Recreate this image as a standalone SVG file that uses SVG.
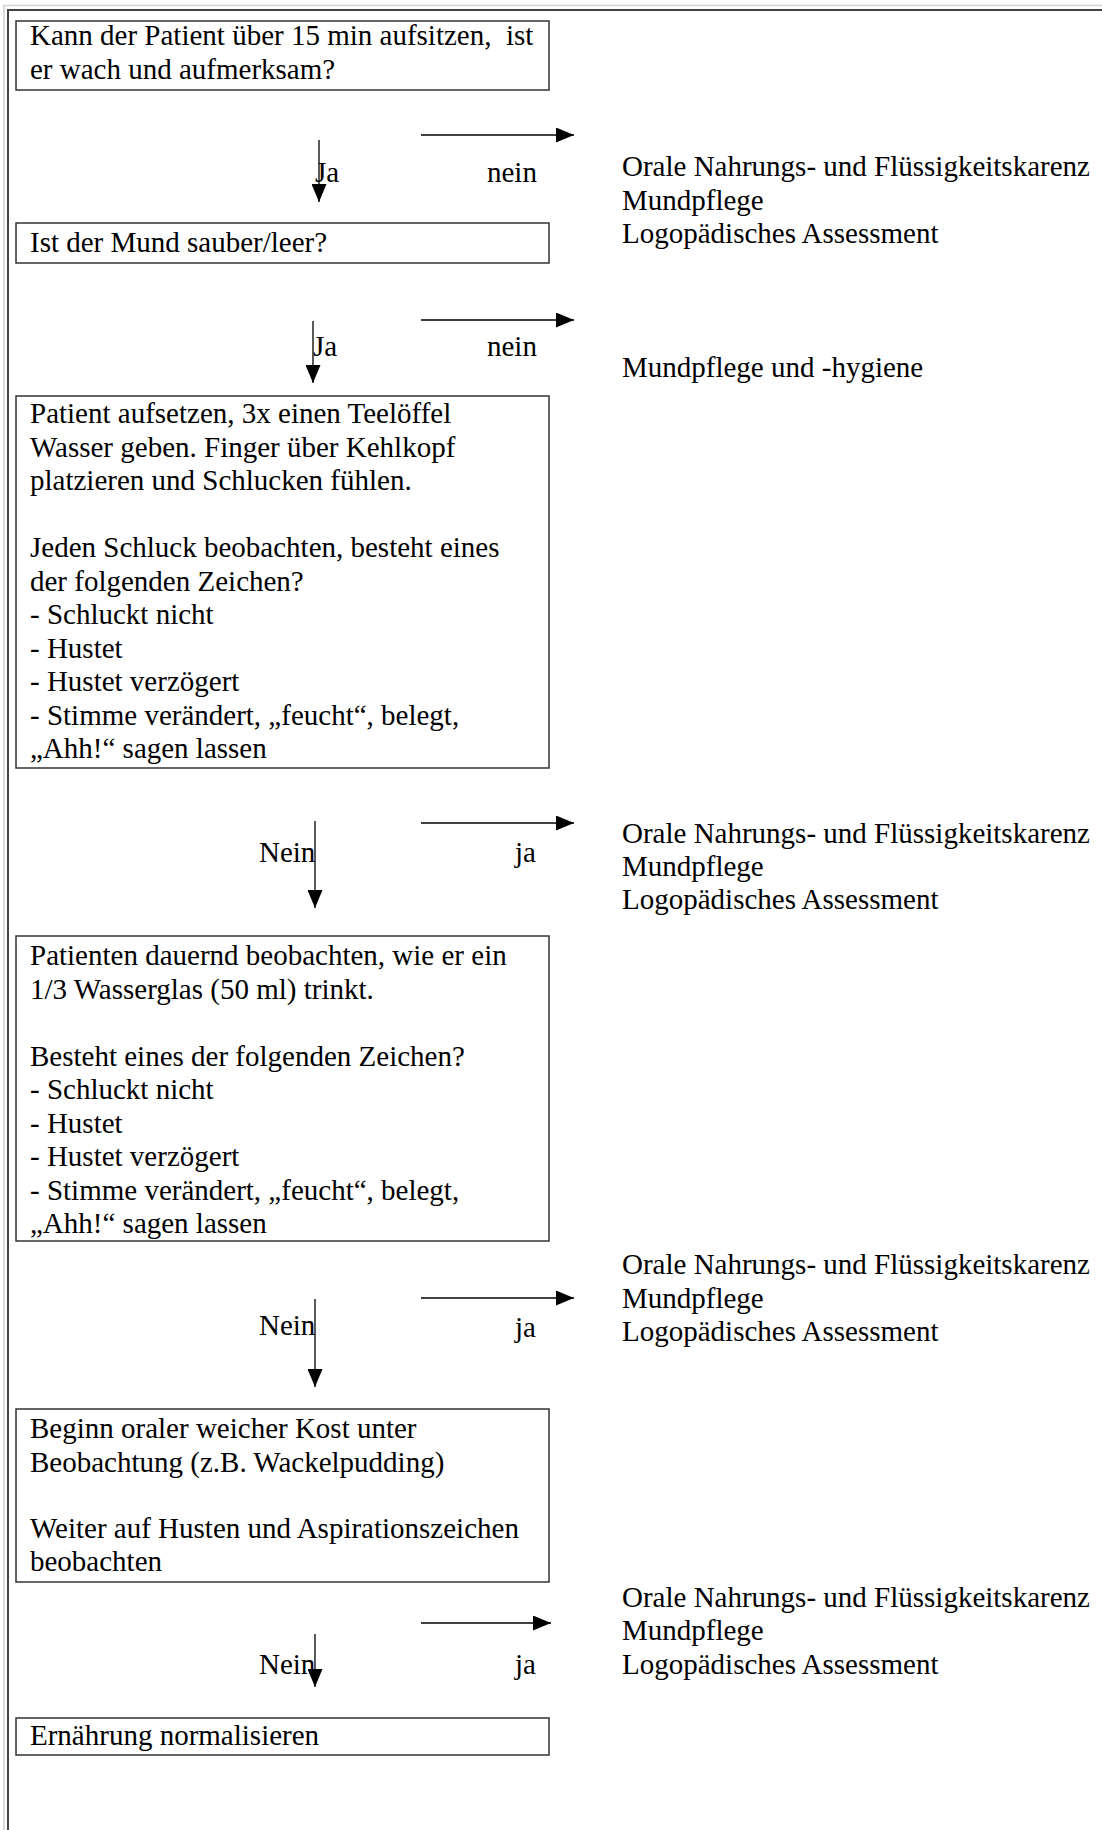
<svg xmlns="http://www.w3.org/2000/svg" width="1102" height="1830" viewBox="0 0 1102 1830">
<defs>
<style>
text{font-family:"Liberation Serif","Times New Roman",serif;font-size:29px;fill:#000;white-space:pre}
.box{fill:#fff;stroke:#333;stroke-width:1.5}
.ln{stroke:#000;stroke-width:1.3;fill:none}
.frameL{stroke:#d0d0d0;stroke-width:1.5;fill:none}
.frameD{stroke:#444;stroke-width:2;fill:none}
</style>
<marker id="ah" viewBox="0 0 18 15" refX="18" refY="7.5" markerWidth="18" markerHeight="15" markerUnits="userSpaceOnUse" orient="auto">
<path d="M0,0 L18,7.5 L0,15 Z" fill="#000"/>
</marker>
</defs>
<rect width="1102" height="1830" fill="#fff"/>
<g id="frame">
<path class="frameL" d="M4,1830 V5.5 H1102"/>
<path class="frameD" d="M8,1830 V10 H1102"/>
</g>
<g id="connectors">
<line class="ln" x1="319" y1="140" x2="319" y2="202" marker-end="url(#ah)"/>
<line class="ln" x1="421" y1="135" x2="574" y2="135" marker-end="url(#ah)"/>
<line class="ln" x1="313" y1="321" x2="313" y2="383" marker-end="url(#ah)"/>
<line class="ln" x1="421" y1="320" x2="574" y2="320" marker-end="url(#ah)"/>
<line class="ln" x1="315" y1="821" x2="315" y2="908" marker-end="url(#ah)"/>
<line class="ln" x1="421" y1="823" x2="574" y2="823" marker-end="url(#ah)"/>
<line class="ln" x1="315" y1="1299" x2="315" y2="1387" marker-end="url(#ah)"/>
<line class="ln" x1="421" y1="1298" x2="574" y2="1298" marker-end="url(#ah)"/>
<line class="ln" x1="315" y1="1634" x2="315" y2="1687" marker-end="url(#ah)"/>
<line class="ln" x1="421" y1="1623" x2="551" y2="1623" marker-end="url(#ah)"/>
<text x="315" y="182">Ja</text>
<text x="487" y="182">nein</text>
<text x="313" y="356">Ja</text>
<text x="487" y="356">nein</text>
<text x="259" y="862">Nein</text>
<text x="515" y="862">ja</text>
<text x="259" y="1335">Nein</text>
<text x="515" y="1337">ja</text>
<text x="259" y="1674">Nein</text>
<text x="515" y="1674">ja</text>
</g>
<g id="n1">
<rect class="box" x="16" y="21" width="533" height="69"/>
<text x="30" y="45" xml:space="preserve">Kann der Patient über 15 min aufsitzen,  ist</text>
<text x="30" y="79">er wach und aufmerksam?</text>
</g>
<g id="n2">
<rect class="box" x="16" y="223" width="533" height="40"/>
<text x="30" y="252">Ist der Mund sauber/leer?</text>
</g>
<g id="n3">
<rect class="box" x="16" y="396" width="533" height="372"/>
<text x="30" y="423">Patient aufsetzen, 3x einen Teelöffel</text>
<text x="30" y="456.5">Wasser geben. Finger über Kehlkopf</text>
<text x="30" y="490">platzieren und Schlucken fühlen.</text>
<text x="30" y="557">Jeden Schluck beobachten, besteht eines</text>
<text x="30" y="590.5">der folgenden Zeichen?</text>
<text x="30" y="624">- Schluckt nicht</text>
<text x="30" y="657.5">- Hustet</text>
<text x="30" y="691">- Hustet verzögert</text>
<text x="30" y="724.5">- Stimme verändert, „feucht“, belegt,</text>
<text x="30" y="758">„Ahh!“ sagen lassen</text>
</g>
<g id="n4">
<rect class="box" x="16" y="936" width="533" height="305"/>
<text x="30" y="965">Patienten dauernd beobachten, wie er ein</text>
<text x="30" y="998.5">1/3 Wasserglas (50 ml) trinkt.</text>
<text x="30" y="1065.5">Besteht eines der folgenden Zeichen?</text>
<text x="30" y="1099">- Schluckt nicht</text>
<text x="30" y="1132.5">- Hustet</text>
<text x="30" y="1166">- Hustet verzögert</text>
<text x="30" y="1199.5">- Stimme verändert, „feucht“, belegt,</text>
<text x="30" y="1233">„Ahh!“ sagen lassen</text>
</g>
<g id="n5">
<rect class="box" x="16" y="1409" width="533" height="173"/>
<text x="30" y="1438">Beginn oraler weicher Kost unter</text>
<text x="30" y="1472">Beobachtung (z.B. Wackelpudding)</text>
<text x="30" y="1538">Weiter auf Husten und Aspirationszeichen</text>
<text x="30" y="1571">beobachten</text>
</g>
<g id="n6">
<rect class="box" x="16" y="1718" width="533" height="37"/>
<text x="30" y="1745">Ernährung normalisieren</text>
</g>
<g id="r1">
<text x="622" y="176">Orale Nahrungs- und Flüssigkeitskarenz</text>
<text x="622" y="209.5">Mundpflege</text>
<text x="622" y="243">Logopädisches Assessment</text>
</g>
<g id="r2">
<text x="622" y="377">Mundpflege und -hygiene</text>
</g>
<g id="r3">
<text x="622" y="843">Orale Nahrungs- und Flüssigkeitskarenz</text>
<text x="622" y="876">Mundpflege</text>
<text x="622" y="909">Logopädisches Assessment</text>
</g>
<g id="r4">
<text x="622" y="1274">Orale Nahrungs- und Flüssigkeitskarenz</text>
<text x="622" y="1308">Mundpflege</text>
<text x="622" y="1341">Logopädisches Assessment</text>
</g>
<g id="r5">
<text x="622" y="1607">Orale Nahrungs- und Flüssigkeitskarenz</text>
<text x="622" y="1640">Mundpflege</text>
<text x="622" y="1674">Logopädisches Assessment</text>
</g>
</svg>
